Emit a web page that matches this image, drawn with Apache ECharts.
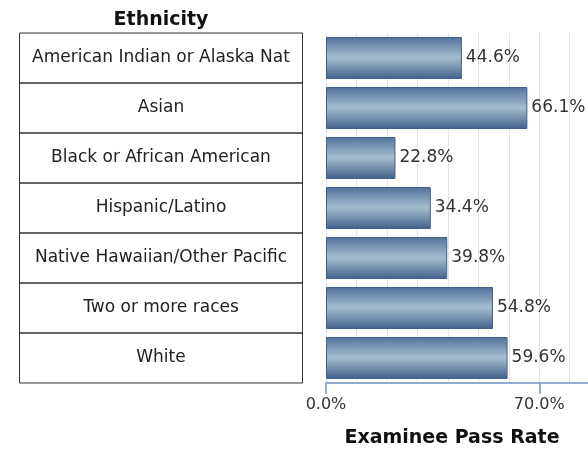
<!DOCTYPE html>
<html>
<head>
<meta charset="utf-8">
<script src="https://cdn.jsdelivr.net/npm/echarts@6/dist/echarts.min.js"></script>
<style>
  html, body { margin: 0; padding: 0; background: #fff; }
  #chart { width: 588px; height: 451px; }
</style>
</head>
<body>
<div id="chart"></div>
<script>
const categories = [
  'American Indian or Alaska Nat',
  'Asian',
  'Black or African American',
  'Hispanic/Latino',
  'Native Hawaiian/Other Pacific',
  'Two or more races',
  'White'
]
const passRates = [44.6, 66.1, 22.8, 34.4, 39.8, 54.8, 59.6]
const xTickValues = [0, 70]

const font = 'DejaVu Sans'
const axisMax = 86
const chart = echarts.init(document.getElementById('chart'))
chart.setOption({
  animation: false,
  graphic: [
    {
      type: 'text',
      x: 161,
      y: 20,
      style: {
        text: 'Ethnicity',
        align: 'center',
        verticalAlign: 'middle',
        font: 'bold 19px "DejaVu Sans"',
        fill: '#111'
      }
    },
    {
      type: 'text',
      x: 452,
      y: 438,
      style: {
        text: 'Examinee Pass Rate',
        align: 'center',
        verticalAlign: 'middle',
        font: 'bold 19px "DejaVu Sans"',
        fill: '#111'
      }
    }
  ],
  grid: {
    left: 326,
    top: 33,
    height: 350,
    right: 0
  },
  xAxis: [
    {
      type: 'value',
      min: 0,
      max: axisMax,
      interval: 10,
      axisLine: {
        show: true,
        lineStyle: { color: '#6f93c0', width: 1.5 }
      },
      axisTick: {
        show: true,
        customValues: xTickValues,
        length: 11,
        lineStyle: { color: '#6f93c0', width: 1.5 }
      },
      axisLabel: {
        customValues: xTickValues,
        margin: 14,
        fontFamily: font,
        fontSize: 16,
        color: '#333',
        formatter: function (v) {
          return v.toFixed(1) + '%'
        }
      },
      splitLine: { show: false }
    },
    {
      // grid lines every 10%
      type: 'value',
      position: 'top',
      min: 0,
      max: axisMax,
      interval: 10,
      axisLine: { show: false },
      axisTick: { show: false },
      axisLabel: { show: false },
      splitLine: {
        show: true,
        lineStyle: { color: '#e2e2ee' }
      }
    }
  ],
  yAxis: {
    type: 'category',
    inverse: true,
    data: categories,
    axisLine: { show: false },
    axisTick: { show: false },
    axisLabel: {
      interval: 0,
      align: 'center',
      margin: 165,
      width: 283,
      height: 50,
      borderColor: '#333',
      borderWidth: 1,
      fontFamily: font,
      fontSize: 17,
      color: '#222'
    }
  },
  series: [
    {
      type: 'bar',
      data: passRates,
      barWidth: 42,
      itemStyle: {
        color: new echarts.graphic.LinearGradient(0, 0, 0, 1, [
          { offset: 0, color: '#51719a' },
          { offset: 0.47, color: '#a1bbcf' },
          { offset: 0.53, color: '#9cb6ca' },
          { offset: 1, color: '#41618a' }
        ]),
        borderColor: '#41628c',
        borderWidth: 1
      },
      label: {
        show: true,
        position: 'right',
        distance: 4,
        fontFamily: font,
        fontSize: 17,
        color: '#333',
        formatter: function (p) {
          return p.value.toFixed(1) + '%'
        }
      }
    }
  ]
})
</script>
</body>
</html>
